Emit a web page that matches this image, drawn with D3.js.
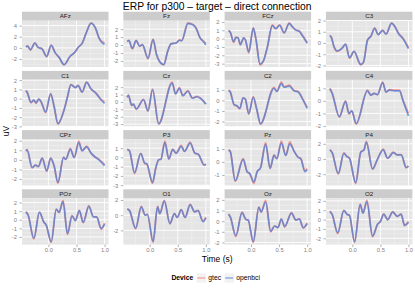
<!DOCTYPE html>
<html>
<head>
<meta charset="utf-8">
<script src="https://cdn.jsdelivr.net/npm/d3@7"></script>
<style>
body { margin: 0; background: #fff; }
svg { display: block; font-family: "Liberation Sans", Arial, sans-serif; }
</style>
</head>
<body>
<script>

// ---- data: knots (time in s, value in uV) ----
var channels = ["AFz", "Fz", "FCz", "C3", "C1", "Cz", "C2", "C4",
                "CPz", "P3", "Pz", "P4", "POz", "O1", "Oz", "O2"];
var devices = ["gtec", "openbci"];

var AFz_t       = [-0.40,-0.37,-0.32,-0.24,-0.18,-0.12,-0.03,0.05,0.12,0.19,0.28,0.39,0.46,0.54,0.60,0.67,0.76,0.84,0.90,0.94,1.00];
var AFz_gtec    = [0.2,0.35,-0.4,0.9,0.05,-0.1,-1.6,0.5,-0.9,-1.7,-3.05,-1.5,-0.9,0.2,0.8,2.6,4.5,3.5,1.85,1.25,0.9];
var AFz_openbci = [0.15,0.3,-0.3,0.85,0.05,-0.1,-1.5,0.45,-0.85,-1.7,-3.0,-1.45,-0.9,0.2,0.8,2.6,4.4,3.5,1.8,1.1,0.6];
var AFz_ticks   = [-2, 0, 2, 4];

var Fz_t        = [-0.40,-0.37,-0.31,-0.24,-0.18,-0.13,-0.03,0.06,0.12,0.17,0.25,0.32,0.38,0.47,0.53,0.57,0.68,0.77,0.83,0.89,0.96,1.00];
var Fz_gtec     = [0.45,0.6,-0.5,0.6,-0.15,0.05,-1.75,0.75,-1.2,-2.0,-2.5,-0.8,0.15,0.25,0.65,0.55,2.8,2.6,2.1,1.0,0.45,0.2];
var Fz_openbci  = [0.45,0.55,-0.4,0.55,-0.15,0.05,-1.65,0.7,-1.15,-2.0,-2.45,-0.8,0.15,0.25,0.6,0.55,2.7,2.55,2.05,1.0,0.4,0.0];
var Fz_ticks    = [-2, -1, 0, 1, 2];

var FCz_t       = [-0.40,-0.37,-0.31,-0.27,-0.23,-0.19,-0.13,-0.10,-0.04,0.04,0.09,0.16,0.22,0.29,0.38,0.44,0.51,0.59,0.68,0.74,0.80,0.86,0.90,1.00];
var FCz_gtec    = [1.0,0.8,-0.45,0.15,0.1,-0.75,0.1,-0.15,-1.7,1.3,-0.15,-3.15,-2.7,-1.05,1.65,1.2,1.65,0.7,1.9,1.4,1.05,0.9,0.55,-0.45];
var FCz_openbci = [0.95,0.8,-0.35,0.15,0.1,-0.7,0.1,-0.15,-1.6,1.25,-0.15,-3.05,-2.7,-1.05,1.55,1.2,1.6,0.7,1.8,1.4,1.0,0.9,0.5,-0.55];
var FCz_ticks   = [-3, -2, -1, 0, 1, 2];

var C3_t        = [-0.40,-0.37,-0.33,-0.27,-0.18,-0.12,-0.05,0.03,0.15,0.20,0.27,0.33,0.40,0.46,0.54,0.60,0.70,0.76,0.82,0.90,1.00];
var C3_gtec     = [0.7,0.5,-0.3,-0.75,-0.45,-0.1,-1.35,-0.75,-1.95,-1.7,0.25,0.6,1.35,0.75,1.15,0.8,1.8,1.45,0.9,0.45,-0.4];
var C3_openbci  = [0.65,0.45,-0.25,-0.7,-0.45,-0.1,-1.3,-0.75,-1.9,-1.7,0.25,0.6,1.3,0.75,1.1,0.8,1.75,1.45,0.85,0.4,-0.5];
var C3_ticks    = [-2, -1, 0, 1, 2];

var C1_t        = [-0.40,-0.38,-0.31,-0.26,-0.22,-0.17,-0.12,-0.05,0.04,0.10,0.17,0.28,0.34,0.40,0.48,0.53,0.60,0.68,0.76,0.85,0.94,1.00];
var C1_gtec     = [0.9,0.75,-0.45,-0.15,-0.5,-0.05,-0.5,-1.5,0.55,-0.8,-2.75,-1.2,0.2,1.55,1.2,1.45,0.7,1.8,1.05,0.6,-0.1,-0.3];
var C1_openbci  = [0.85,0.7,-0.4,-0.15,-0.45,-0.05,-0.45,-1.45,0.5,-0.8,-2.7,-1.2,0.2,1.5,1.2,1.4,0.7,1.75,1.05,0.55,-0.15,-0.5];
var C1_ticks    = [-3, -2, -1, 0, 1, 2];

var Cz_t        = [-0.40,-0.38,-0.32,-0.29,-0.24,-0.11,-0.03,0.05,0.16,0.40,0.46,0.53,0.59,0.68,0.76,0.84,0.90,1.00];
var Cz_gtec     = [0.65,0.95,-0.5,-0.3,-1.0,0.35,-1.25,1.75,-3.0,2.7,1.1,1.95,0.85,1.55,0.55,0.75,0.55,-0.25];
var Cz_openbci  = [0.6,0.9,-0.45,-0.3,-0.95,0.3,-1.2,1.65,-2.95,2.55,1.1,1.85,0.85,1.45,0.5,0.7,0.5,-0.3];
var Cz_ticks    = [-3, -2, -1, 0, 1, 2];

var C2_t        = [-0.40,-0.37,-0.30,-0.25,-0.20,-0.14,-0.10,-0.04,0.04,0.10,0.17,0.41,0.46,0.54,0.59,0.68,0.77,0.84,0.92,1.00];
var C2_gtec     = [1.0,0.85,-0.45,-0.55,-0.8,0.25,0.1,-1.3,0.35,-0.8,-2.25,1.25,0.85,1.75,1.3,1.45,0.95,0.85,0.15,-0.65];
var C2_openbci  = [0.95,0.8,-0.4,-0.5,-0.75,0.25,0.1,-1.25,0.3,-0.8,-2.2,1.15,0.85,1.6,1.25,1.35,0.9,0.8,0.1,-0.75];
var C2_ticks    = [-2, -1, 0, 1];

var C4_t        = [-0.40,-0.36,-0.23,-0.12,-0.06,-0.01,0.07,0.27,0.33,0.39,0.45,0.54,0.60,0.66,0.75,0.84,0.90,1.00];
var C4_gtec     = [1.0,0.65,-1.3,0.0,-1.05,-0.8,-1.85,0.85,0.45,0.6,0.5,1.5,0.7,0.9,0.85,0.85,0.1,-1.0];
var C4_openbci  = [0.95,0.6,-1.25,-0.05,-1.0,-0.8,-1.8,0.8,0.45,0.6,0.5,1.45,0.7,0.85,0.8,0.8,0.05,-1.2];
var C4_ticks    = [-2, -1, 0, 1];

var CPz_t       = [-0.40,-0.38,-0.29,-0.23,-0.18,-0.11,-0.03,0.04,0.10,0.17,0.27,0.31,0.39,0.46,0.54,0.60,0.68,0.76,0.82,0.90,1.00];
var CPz_gtec    = [0.95,1.1,-0.85,-0.55,-0.7,0.2,-1.2,0.2,-0.6,-2.45,0.25,0.05,1.2,0.25,1.95,0.95,1.45,0.7,0.35,0.05,-0.5];
var CPz_openbci = [0.9,1.05,-0.8,-0.55,-0.7,0.15,-1.15,0.15,-0.6,-2.35,0.25,0.05,1.1,0.25,1.8,0.95,1.35,0.7,0.35,0.0,-0.6];
var CPz_ticks   = [-2, -1, 0, 1, 2];

var P3_t        = [-0.40,-0.36,-0.27,-0.16,-0.09,-0.05,0.05,0.11,0.16,0.20,0.27,0.34,0.41,0.47,0.56,0.62,0.72,0.80,0.87,0.97,1.00];
var P3_gtec     = [0.9,0.75,-1.75,0.45,-0.65,-0.75,-2.8,-1.1,-0.25,-0.2,1.75,-0.2,0.9,0.45,1.3,0.65,1.65,0.5,0.3,-0.8,-0.7];
var P3_openbci  = [0.85,0.7,-1.65,0.4,-0.6,-0.7,-2.7,-1.1,-0.25,-0.2,1.6,-0.15,0.85,0.45,1.2,0.65,1.55,0.5,0.3,-0.85,-0.75];
var P3_ticks    = [-3, -2, -1, 0, 1];

var Pz_t        = [-0.40,-0.37,-0.28,-0.14,-0.07,-0.02,0.05,0.11,0.17,0.26,0.34,0.41,0.46,0.54,0.62,0.69,0.77,0.83,0.89,0.96,1.00];
var Pz_gtec     = [0.95,0.85,-1.5,0.25,-0.75,-0.95,-1.65,-0.75,-0.45,1.5,-0.5,0.55,0.25,1.6,0.5,1.55,0.8,0.4,0.25,-0.65,-0.5];
var Pz_openbci  = [0.9,0.8,-1.45,0.2,-0.75,-0.9,-1.55,-0.75,-0.45,1.35,-0.5,0.5,0.25,1.45,0.5,1.4,0.8,0.4,0.2,-0.75,-0.6];
var Pz_ticks    = [-1, 0, 1];

var P4_t        = [-0.40,-0.36,-0.25,-0.15,-0.10,-0.05,0.06,0.15,0.21,0.25,0.36,0.45,0.55,0.63,0.73,0.80,0.87,0.96,1.00];
var P4_gtec     = [1.25,0.9,-2.0,0.8,0.35,0.1,-3.2,0.9,1.25,2.35,-1.35,0.0,1.3,0.1,0.9,0.55,0.6,-1.1,-0.9];
var P4_openbci  = [1.2,0.85,-1.9,0.75,0.35,0.1,-3.1,0.9,1.2,2.2,-1.3,0.0,1.2,0.1,0.85,0.55,0.55,-1.15,-0.95];
var P4_ticks    = [-2, 0, 2];

var POz_t       = [-0.40,-0.36,-0.26,-0.16,-0.08,-0.04,0.05,0.14,0.19,0.26,0.34,0.42,0.48,0.55,0.62,0.72,0.80,0.86,0.94,1.00];
var POz_gtec    = [0.95,0.55,-2.25,0.9,-0.3,-0.6,-2.65,1.25,0.85,2.25,-1.7,0.45,-0.1,1.1,-0.35,1.65,0.35,0.35,-1.1,-0.4];
var POz_openbci = [0.9,0.5,-2.15,0.85,-0.3,-0.6,-2.55,1.2,0.85,2.1,-1.6,0.45,-0.1,1.05,-0.3,1.55,0.35,0.3,-1.0,-0.5];
var POz_ticks   = [-2, -1, 0, 1, 2];

var O1_t        = [-0.40,-0.36,-0.25,-0.15,-0.08,-0.04,0.06,0.14,0.18,0.26,0.36,0.44,0.49,0.56,0.63,0.72,0.80,0.86,0.95,1.00];
var O1_gtec     = [0.85,0.65,-1.8,1.15,0.0,0.1,-3.6,1.15,0.2,1.95,-1.15,0.2,-0.3,0.75,-0.3,1.45,0.45,0.65,-0.8,-0.3];
var O1_openbci  = [0.8,0.6,-1.7,1.1,0.0,0.1,-3.45,1.1,0.2,1.85,-1.1,0.2,-0.3,0.7,-0.3,1.35,0.45,0.6,-0.85,-0.35];
var O1_ticks    = [-2, 0, 2];

var Oz_t        = [-0.40,-0.37,-0.27,-0.16,-0.09,-0.05,0.04,0.14,0.18,0.26,0.35,0.42,0.48,0.54,0.60,0.72,0.80,0.86,0.93,1.00];
var Oz_gtec     = [0.7,0.45,-1.45,0.85,0.15,0.1,-2.0,1.35,0.85,1.95,-1.0,-0.45,-0.6,0.2,-0.55,0.8,0.1,0.25,-0.65,-0.15];
var Oz_openbci  = [0.65,0.4,-1.35,0.8,0.15,0.1,-1.9,1.3,0.85,1.8,-0.95,-0.45,-0.6,0.2,-0.5,0.75,0.1,0.2,-0.6,-0.25];
var Oz_ticks    = [-2, -1, 0, 1, 2];

var O2_t        = [-0.40,-0.36,-0.26,-0.15,-0.09,-0.05,0.04,0.14,0.19,0.26,0.36,0.45,0.50,0.56,0.63,0.72,0.80,0.87,0.93,1.00];
var O2_gtec     = [0.9,0.6,-1.5,1.0,0.55,0.45,-2.45,1.65,0.7,2.05,-1.85,-0.5,-0.2,0.6,0.0,0.85,0.35,0.6,-0.65,-0.2];
var O2_openbci  = [0.85,0.55,-1.4,0.95,0.55,0.45,-2.35,1.6,0.7,1.9,-1.75,-0.5,-0.2,0.55,0.0,0.8,0.35,0.55,-0.6,-0.3];
var O2_ticks    = [-2, -1, 0, 1, 2];

var xTicks = [0, 0.5, 1.0];
var xMinor = [-0.25, 0.25, 0.75];
var timeRange = [-0.4, 1.0];

// lookup built from the arrays above
var table = {
    AFz: [AFz_t, AFz_gtec, AFz_openbci, AFz_ticks], Fz: [Fz_t, Fz_gtec, Fz_openbci, Fz_ticks],
    FCz: [FCz_t, FCz_gtec, FCz_openbci, FCz_ticks], C3: [C3_t, C3_gtec, C3_openbci, C3_ticks],
    C1: [C1_t, C1_gtec, C1_openbci, C1_ticks], Cz: [Cz_t, Cz_gtec, Cz_openbci, Cz_ticks],
    C2: [C2_t, C2_gtec, C2_openbci, C2_ticks], C4: [C4_t, C4_gtec, C4_openbci, C4_ticks],
    CPz: [CPz_t, CPz_gtec, CPz_openbci, CPz_ticks], P3: [P3_t, P3_gtec, P3_openbci, P3_ticks],
    Pz: [Pz_t, Pz_gtec, Pz_openbci, Pz_ticks], P4: [P4_t, P4_gtec, P4_openbci, P4_ticks],
    POz: [POz_t, POz_gtec, POz_openbci, POz_ticks], O1: [O1_t, O1_gtec, O1_openbci, O1_ticks],
    Oz: [Oz_t, Oz_gtec, Oz_openbci, Oz_ticks], O2: [O2_t, O2_gtec, O2_openbci, O2_ticks]
};

// ---- layout ----
var W = 415, H = 291;
var panelLeft = 22, panelW = 86.5, colStep = 101.3;
var panelTop = 11.7, stripH = 9, plotH = 46.3, rowStep = 59.2;
var colors = { gtec: "#F8766D", openbci: "#4A7FD8" };
var grey = "#7F7F7F";

var svg = d3.select("body").append("svg")
    .attr("width", W)
    .attr("height", H);

var pad = (timeRange[1] - timeRange[0]) * 0.05;
var x = d3.scaleLinear()
    .domain([timeRange[0] - pad, timeRange[1] + pad])
    .range([0, panelW]);

channels.forEach(function (name, i) {
    var col = i % 4, row = Math.floor(i / 4);
    var rec = table[name];
    var t = rec[0], ticks = rec[3];

    var all = rec[1].concat(rec[2]);
    var lo = d3.min(all), hi = d3.max(all), r = hi - lo;
    var y = d3.scaleLinear()
        .domain([lo - r * 0.05, hi + r * 0.05])
        .range([plotH, 0]);

    var g = svg.append("g")
        .attr("transform", "translate(" + (panelLeft + col * colStep) + "," + (panelTop + row * rowStep) + ")");

    // strip
    g.append("rect")
        .attr("width", panelW).attr("height", stripH)
        .attr("fill", "#CCCCCC");
    g.append("text")
        .attr("x", panelW / 2).attr("y", stripH / 2)
        .attr("dy", "0.35em")
        .attr("text-anchor", "middle")
        .attr("font-size", 6.2)
        .attr("fill", "#1A1A1A")
        .text(name);

    var p = g.append("g").attr("transform", "translate(0," + stripH + ")");
    p.append("rect")
        .attr("width", panelW).attr("height", plotH)
        .attr("fill", "#E5E5E5");

    // minor grid
    var step = ticks[1] - ticks[0];
    var yMinor = d3.range(ticks[0] - step / 2, ticks[ticks.length - 1] + step, step)
        .filter(function (v) { return v > y.domain()[0] && v < y.domain()[1]; });
    p.selectAll(".ymin").data(yMinor).enter().append("line")
        .attr("x1", 0).attr("x2", panelW)
        .attr("y1", y).attr("y2", y)
        .attr("stroke", "#F2F2F2").attr("stroke-width", 0.5);
    p.selectAll(".xmin").data(xMinor).enter().append("line")
        .attr("y1", 0).attr("y2", plotH)
        .attr("x1", x).attr("x2", x)
        .attr("stroke", "#F2F2F2").attr("stroke-width", 0.5);

    // major grid
    p.selectAll(".ymaj").data(ticks).enter().append("line")
        .attr("x1", 0).attr("x2", panelW)
        .attr("y1", y).attr("y2", y)
        .attr("stroke", "#FFFFFF").attr("stroke-width", 0.9);
    p.selectAll(".xmaj").data(xTicks).enter().append("line")
        .attr("y1", 0).attr("y2", plotH)
        .attr("x1", x).attr("x2", x)
        .attr("stroke", "#FFFFFF").attr("stroke-width", 0.9);

    // lines
    var line = d3.line()
        .x(function (d) { return x(d[0]); })
        .y(function (d) { return y(d[1]); })
        .curve(d3.curveMonotoneX);

    devices.forEach(function (dev, k) {
        var vals = rec[1 + k];
        p.append("path")
            .datum(t.map(function (tt, j) { return [tt, vals[j]]; }))
            .attr("d", line)
            .attr("fill", "none")
            .attr("stroke", colors[dev])
            .attr("stroke-opacity", 0.75)
            .attr("stroke-width", 1.7)
            .attr("stroke-linejoin", "round");
    });

    // y axis
    var ya = p.append("g")
        .call(d3.axisLeft(y).tickValues(ticks).tickSize(2.5).tickPadding(2.5)
            .tickFormat(function (d) { return String(d); }));
    ya.select(".domain").remove();
    ya.selectAll("line").attr("stroke", grey).attr("stroke-width", 0.6);
    ya.selectAll("text").attr("fill", grey).attr("font-size", 5.8)
        .attr("font-family", "Liberation Sans, Arial, sans-serif");

    // x axis only on the bottom row
    if (row === 3) {
        var xa = p.append("g")
            .attr("transform", "translate(0," + plotH + ")")
            .call(d3.axisBottom(x).tickValues(xTicks).tickSize(2.5).tickPadding(0.8)
                .tickFormat(function (d) { return d.toFixed(1); }));
        xa.select(".domain").remove();
        xa.selectAll("line").attr("stroke", grey).attr("stroke-width", 0.6);
        xa.selectAll("text").attr("fill", grey).attr("font-size", 5.8)
            .attr("font-family", "Liberation Sans, Arial, sans-serif");
    }
});

var midX = panelLeft + (3 * colStep + panelW) / 2;

// title and axis titles
svg.append("text")
    .attr("x", midX).attr("y", 10)
    .attr("text-anchor", "middle")
    .attr("font-size", 10.3)
    .text("ERP for p300 \u2013 target \u2013 direct connection");

svg.append("text")
    .attr("x", midX).attr("y", 261.5)
    .attr("text-anchor", "middle")
    .attr("font-size", 8.5)
    .text("Time (s)");

svg.append("text")
    .attr("transform", "translate(8.5,131) rotate(-90)")
    .attr("text-anchor", "middle")
    .attr("font-size", 8.5)
    .text("uV");

// legend
var leg = svg.append("g");
var lx = 0, ly = 278, keyS = 10;
var ttl = leg.append("text")
    .attr("x", lx).attr("y", ly).attr("dy", "0.35em")
    .attr("font-size", 6.8).attr("font-weight", "bold")
    .text("Device");
lx += ttl.node().getComputedTextLength() + 3;
devices.forEach(function (dev) {
    leg.append("rect")
        .attr("x", lx).attr("y", ly - keyS / 2)
        .attr("width", keyS).attr("height", keyS)
        .attr("fill", "#F2F2F2").attr("stroke", "#FFFFFF").attr("stroke-width", 0.5);
    leg.append("line")
        .attr("x1", lx + 1).attr("x2", lx + keyS - 1)
        .attr("y1", ly).attr("y2", ly)
        .attr("stroke", colors[dev]).attr("stroke-opacity", 0.6).attr("stroke-width", 1.5);
    lx += keyS + 2;
    var lab = leg.append("text")
        .attr("x", lx).attr("y", ly).attr("dy", "0.35em")
        .attr("font-size", 6.8)
        .text(dev);
    lx += lab.node().getComputedTextLength() + 3;
});
leg.attr("transform", "translate(" + (midX - lx / 2) + ",0)");

</script>
</body>
</html>
